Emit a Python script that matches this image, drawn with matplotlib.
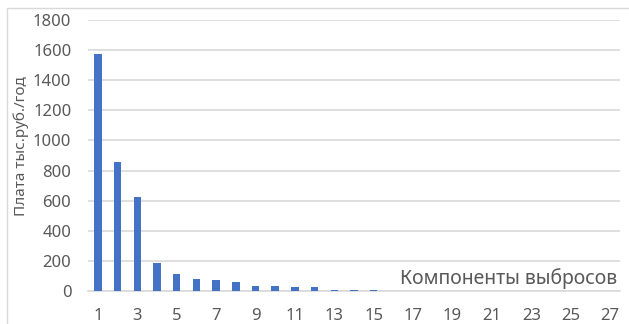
import matplotlib
matplotlib.use("Agg")
import matplotlib.pyplot as plt
from matplotlib.patches import Rectangle

categories = list(range(1, 28))
values = [1574, 857, 624, 188, 115, 80, 73, 60, 33, 33, 27, 27, 7, 7, 7,
          0, 0, 0, 0, 0, 0, 0, 0, 0, 0, 0, 0]
y_ticks = [0, 200, 400, 600, 800, 1000, 1200, 1400, 1600, 1800]
x_tick_labels = [str(c) for c in categories if c % 2 == 1]
y_label = "Плата тыс.руб./год"
x_title = "Компоненты выбросов"

plt.rcParams['font.family'] = ['Noto Sans', 'DejaVu Sans']
text_color = "#595959"

fig = plt.figure(figsize=(6.29, 3.24), dpi=100)
ax = fig.add_axes([88/629, 1 - 291/324, (620-88)/629, (291-20)/324])

ax.bar(categories, values, width=0.38, color="#4472C4", zorder=3)
ax.set_xlim(0.5, 27.5)
ax.set_ylim(0, 1800)
ax.set_yticks(y_ticks)
ax.set_yticklabels([str(t) for t in y_ticks])
ax.set_xticks([c for c in categories if c % 2 == 1])
ax.set_xticklabels(x_tick_labels)
ax.grid(axis='y', color="#D9D9D9", linewidth=1.2, zorder=0)
for s in ['top', 'right', 'left']:
    ax.spines[s].set_visible(False)
ax.spines['bottom'].set_color("#D9D9D9")
ax.spines['bottom'].set_linewidth(1.2)
ax.tick_params(axis='both', length=0, colors=text_color, labelsize=12)
ax.tick_params(axis='y', pad=12)
ax.tick_params(axis='x', pad=12.5)

fig.text(21/629, 1 - 146/324, y_label, rotation=90, ha='center', va='center',
         color=text_color, fontsize=11)
ax.text(0.995, 0.008, x_title, transform=ax.transAxes, ha='right', va='bottom',
        color=text_color, fontsize=14)

# chart border
fig.patches.append(Rectangle((7/629, -0.1), 1.2, 1 - 8/324 + 0.1, transform=fig.transFigure,
                             fill=False, edgecolor="#D9D9D9", linewidth=1.0))

fig.savefig("out.png", dpi=100)
